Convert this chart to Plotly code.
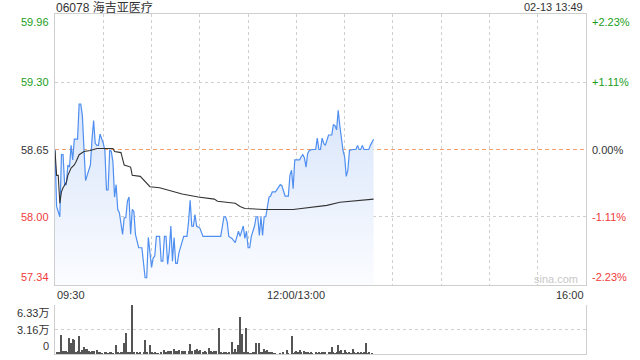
import plotly.graph_objects as go

# ---------------- data ----------------
title_text = "06078 海吉亚医疗"
stamp_text = "02-13 13:49"
prev_close = 58.65
y_min, y_max = 57.34, 59.96
price_ticks = [59.96, 59.30, 58.65, 58.00, 57.34]
pct_ticks = ["+2.23%", "+1.11%", "0.00%", "-1.11%", "-2.23%"]
x_labels = ["09:30", "12:00/13:00", "16:00"]
x_label_pos = [0, 150, 330]          # trading minutes since 09:30
vol_max = 6.33
vol_tick_labels = ["6.33万", "3.16万", "0"]
vol_tick_vals = [6.33, 3.165, 0]

# price (trading minutes since 09:30, price)
price_t = [0, 1, 3, 4, 5, 6, 7, 8, 9, 10, 11, 12, 14, 15, 16, 17, 18, 19, 20, 21, 22, 23, 24, 25,
           26, 27, 28, 30, 31, 32, 33, 34, 35, 36, 37, 38, 39, 40, 41, 42, 43, 44, 45, 46, 47, 48,
           49, 50, 52, 54, 56, 57, 58, 60, 61, 62, 63, 65, 66, 67, 68, 69, 70, 71, 72, 73, 74, 75,
           76, 77, 80, 82, 83, 84, 85, 86, 87, 88, 90, 92, 103, 104, 105, 106, 107, 108, 110, 112,
           113, 114, 115, 116, 117, 118, 119, 120, 121, 122, 124, 125, 126, 127, 128, 129, 130, 131,
           132, 133, 134, 135, 137, 138, 140, 141, 142, 143, 145, 146, 147, 148, 149, 150, 152, 153,
           154, 155, 156, 157, 158, 160, 162, 163, 164, 165, 166, 167, 168, 170, 172, 173, 174, 175,
           176, 177, 178, 179, 180, 181, 182, 183, 185, 187, 188, 189, 190, 191, 192, 195, 196, 198]
price_v = [58.65, 58.10, 58.00, 58.60, 58.60, 58.31, 58.31, 58.50, 58.48, 58.69, 58.55, 58.75, 58.75,
           59.09, 59.09, 58.98, 58.66, 58.35, 58.40, 58.45, 58.50, 58.75, 58.93, 58.71,
           58.69, 58.69, 58.80, 58.71, 58.64, 58.26, 58.26, 58.65, 58.63, 58.53, 58.19, 58.31, 58.07,
           58.04, 57.94, 57.83, 57.99, 57.99, 58.15, 58.19, 57.83, 58.07,
           58.05, 57.83, 57.70, 57.70, 57.41, 57.41, 57.80, 57.51, 57.60, 57.62, 57.81, 57.81, 57.57,
           57.57, 57.81, 57.81, 57.54, 57.67, 57.91, 57.57, 57.80, 57.55,
           57.55, 57.65, 57.81, 57.81, 57.95, 58.16, 57.91, 57.91, 58.02, 57.91, 57.89, 57.81, 57.81,
           57.89, 58.00, 58.00, 57.95, 57.81, 57.79, 57.75,
           57.81, 57.86, 57.81, 57.86, 57.91, 57.79, 57.86, 57.70, 57.70, 57.81, 57.91, 58.00, 58.00,
           57.82, 58.00, 57.82, 58.00, 58.00,
           58.10, 58.19, 58.20, 58.24, 58.24, 58.26, 58.31, 58.30, 58.24, 58.20, 58.20, 58.40, 58.45,
           58.27, 58.55, 58.55, 58.55, 58.58,
           58.60, 58.57, 58.48, 58.61, 58.64, 58.65, 58.65, 58.76, 58.65, 58.65, 58.76, 58.71, 58.69,
           58.79, 58.79, 58.89, 58.88, 58.84,
           59.03, 58.88, 58.76, 58.64, 58.58, 58.39, 58.45, 58.64, 58.65, 58.65, 58.69, 58.65, 58.65,
           58.69, 58.65, 58.65, 58.69, 58.75]

# average price line
avg_t = [0, 1, 2, 3, 4, 5, 7, 8, 10, 12, 13, 15, 18, 22, 26, 30, 36, 37, 41, 42, 43, 47, 48, 53,
         56, 59, 65, 70, 79, 89, 99, 101, 112, 115, 118, 130, 148, 169, 177, 198]
avg_v = [58.64, 58.40, 58.40, 58.13, 58.24, 58.28, 58.33, 58.40, 58.47, 58.50, 58.53, 58.60, 58.63,
         58.64, 58.66, 58.66, 58.66, 58.63, 58.62, 58.56, 58.50, 58.48, 58.40, 58.39,
         58.34, 58.29, 58.28, 58.26, 58.22, 58.19, 58.17, 58.15, 58.13, 58.10, 58.08, 58.07, 58.07,
         58.11, 58.14, 58.17]

# volume (万股)
vol_t = [1, 2, 3, 4, 5, 6, 7, 8, 9, 10, 11, 12, 13, 14, 15, 16, 17, 18, 19, 20, 21, 22, 23, 24, 26,
         27, 28, 29, 31, 32, 33, 34, 35, 36, 38, 39, 40, 41, 42, 43, 44, 45, 46, 47, 48, 49, 51, 52,
         53, 55, 56, 57, 59, 60, 61, 62, 63, 64, 66, 68, 69, 70, 71, 72, 74, 75, 76, 77, 79, 80, 81,
         83, 84, 85, 87, 88, 89, 90, 92, 93, 94, 96, 97, 98, 99, 100,
         102, 103, 104, 105, 106, 107, 108, 110, 111, 112, 113, 114, 115, 116, 117, 118, 119, 120,
         121, 122, 123, 124, 125, 127, 128, 129, 130, 131, 132, 133, 134, 135, 136, 137, 140, 142,
         144, 145, 147, 148, 149, 150, 151, 152, 153, 155, 156, 157, 158, 159, 160, 162, 163, 164,
         165, 166, 167, 168, 170, 171, 172, 173, 174, 175, 176, 177, 178, 179, 180, 181, 182, 183,
         184, 185, 186, 187, 188, 189, 190, 191, 192, 193, 194, 195, 197]
vol_v = [0.13, 0.13, 0.26, 2.48, 0.43, 0.43, 0.43, 0.26, 2.05, 1.41, 1.92, 1.84, 0.26, 0.43, 2.35,
         0.26, 0.56, 0.86, 0.64, 0.68, 0.34, 0.26, 0.43, 0.34, 0.51,
         0.13, 0.13, 0.09, 0.13, 0.17, 0.09, 0.17, 0.26, 0.09, 1.20, 0.13, 0.09, 0.17, 0.26, 1.41,
         2.69, 0.17, 0.26, 0.13, 6.33, 0.13, 0.17, 0.09,
         0.13, 0.26, 1.84, 0.26, 1.20, 0.17, 0.09, 0.13, 0.09, 0.09, 0.17, 0.56, 0.26, 0.43, 0.34,
         0.43, 0.68, 0.43, 0.34, 0.51, 0.43, 0.34, 0.43,
         0.43, 1.28, 0.34, 0.56, 0.68, 0.34, 0.51, 0.26, 0.34, 0.17, 0.77, 0.34, 0.26, 0.34, 0.34,
         3.34, 0.13, 0.09, 0.13, 0.17, 0.09, 0.17, 1.54, 0.13, 0.68, 0.26, 1.11, 4.79, 2.57, 0.26,
         0.17, 3.34, 0.26,
         0.09, 0.09, 0.17, 0.26, 1.41, 1.41, 0.13, 0.17, 0.68, 0.43, 0.51, 0.26, 0.17, 0.26, 0.09,
         0.09, 0.09, 0.17,
         0.56, 0.09, 2.31, 0.09, 0.17, 0.43, 0.17, 0.56, 0.17, 0.43, 0.26, 0.17, 0.09, 0.17, 0.09,
         0.17, 0.09, 0.17,
         0.09, 0.17, 0.26, 0.17, 0.26, 0.17, 0.94, 0.26, 0.09, 0.17, 1.20, 0.34, 0.56, 0.09, 0.56,
         0.26, 0.09, 0.17,
         0.09, 0.68, 0.17, 0.09, 0.17, 0.09, 0.17, 0.09, 0.17, 1.41, 0.09, 0.17, 0.09]

# ---------------- figure ----------------
W, H = 640, 360
ML, MR, MT, MB = 55, 54, 14, 6
PW, PH = W - ML - MR, H - MT - MB
price_top_px, price_bot_px = 14, 285
vol_top_px, vol_bot_px = 305, 354


def py(p):
    return (H - MB - p) / PH


def px(p):
    return (p - ML) / PW


FONT = "Liberation Sans, Arial, Noto Sans CJK SC, sans-serif"
GREEN, RED, DARK = "#1a9e1a", "#f03b3b", "#333333"
GRID = "#cfcfcf"

fig = go.Figure()

fig.add_trace(go.Scatter(x=price_t, y=[y_min] * len(price_t), mode="lines",
                         line=dict(width=0, color="rgba(0,0,0,0)"), hoverinfo="skip",
                         showlegend=False, xaxis="x", yaxis="y"))
fig.add_trace(go.Scatter(x=price_t, y=price_v, mode="lines", fill="tonexty",
                         fillgradient=dict(type="vertical", start=y_min, stop=max(price_v),
                                           colorscale=[[0, "#fbfcff"], [1, "#d8e5fa"]]),
                         line=dict(color="#4f8ff0", width=1.2), showlegend=False,
                         xaxis="x", yaxis="y"))
fig.add_trace(go.Scatter(x=avg_t, y=avg_v, mode="lines",
                         line=dict(color="#333333", width=1.1), showlegend=False,
                         xaxis="x", yaxis="y"))
fig.add_trace(go.Bar(x=vol_t, y=vol_v, width=0.62, marker=dict(color="#555555", line=dict(width=0)),
                     showlegend=False, xaxis="x2", yaxis="y2"))

fig.update_layout(
    width=W, height=H, margin=dict(l=ML, r=MR, t=MT, b=MB),
    paper_bgcolor="white", plot_bgcolor="white",
    font=dict(family=FONT, size=11, color=DARK),
    xaxis=dict(range=[0, 330], domain=[0, 1], anchor="y", tick0=0, dtick=30,
               showgrid=True, gridcolor=GRID, griddash="dot", gridwidth=1,
               showticklabels=False, ticks="", zeroline=False,
               showline=True, linecolor=GRID, linewidth=1, mirror=True),
    yaxis=dict(range=[y_min, y_max], domain=[py(price_bot_px), py(price_top_px)], anchor="x",
               tickvals=[59.30, 58.00], showgrid=True, gridcolor=GRID, griddash="dot",
               showticklabels=False, ticks="", zeroline=False,
               showline=True, linecolor=GRID, linewidth=1, mirror=True),
    xaxis2=dict(range=[0, 330], domain=[0, 1], anchor="y2", showgrid=False,
                showticklabels=False, ticks="", zeroline=False,
                showline=True, linecolor=GRID, linewidth=1, mirror=False),
    yaxis2=dict(range=[0, vol_max], domain=[py(vol_bot_px), py(vol_top_px)], anchor="x2",
                tickvals=[vol_max / 2, vol_max], showgrid=True, gridcolor=GRID, griddash="dot",
                showticklabels=False, ticks="", zeroline=False,
                showline=True, linecolor=GRID, linewidth=1, mirror=True),
    bargap=0,
)

# previous-close dashed line
fig.add_shape(type="line", xref="x", yref="y", x0=0, x1=330, y0=prev_close, y1=prev_close,
              line=dict(color="#f2a067", width=1, dash="4px,3px"), layer="below")

ann = []
# price labels
for i, (v, pc) in enumerate(zip(price_ticks, pct_ticks)):
    col = GREEN if v > prev_close else (RED if v < prev_close else DARK)
    ya = "top" if i == 0 else ("bottom" if i == len(price_ticks) - 1 else "middle")
    ann.append(dict(x=px(51), y=v, xref="paper", yref="y", text=f"{v:.2f}", showarrow=False,
                    xanchor="right", yanchor=ya, font=dict(color=col, size=11)))
    ann.append(dict(x=px(590), y=v, xref="paper", yref="y", text=pc, showarrow=False,
                    xanchor="left", yanchor=ya, font=dict(color=col, size=11)))
# volume labels
for i, (v, t) in enumerate(zip(vol_tick_vals, vol_tick_labels)):
    ya = "top" if i == 0 else ("bottom" if i == len(vol_tick_vals) - 1 else "middle")
    ann.append(dict(x=px(51), y=v, xref="paper", yref="y2", text=t, showarrow=False,
                    xanchor="right", yanchor=ya, font=dict(color=DARK, size=11)))
# time labels
anchors = ["left", "center", "right"]
for t, pos, a in zip(x_labels, x_label_pos, anchors):
    ann.append(dict(x=pos, y=py(295), xref="x", yref="paper", text=t, showarrow=False,
                    xanchor=a, yanchor="middle", font=dict(color=DARK, size=11)))
# title and stamp
ann.append(dict(x=px(54), y=py(7), xref="paper", yref="paper", text=title_text, showarrow=False,
                xanchor="left", yanchor="middle", font=dict(color=DARK, size=12)))
ann.append(dict(x=px(585), y=py(7), xref="paper", yref="paper", text=stamp_text, showarrow=False,
                xanchor="right", yanchor="middle", font=dict(color=DARK, size=11)))
# watermark
ann.append(dict(x=px(580), y=py(279), xref="paper", yref="paper", text="sina.com", showarrow=False,
                xanchor="right", yanchor="middle", font=dict(color="#c8c8c8", size=11)))

fig.update_layout(annotations=ann)
fig.write_html("out.html")
